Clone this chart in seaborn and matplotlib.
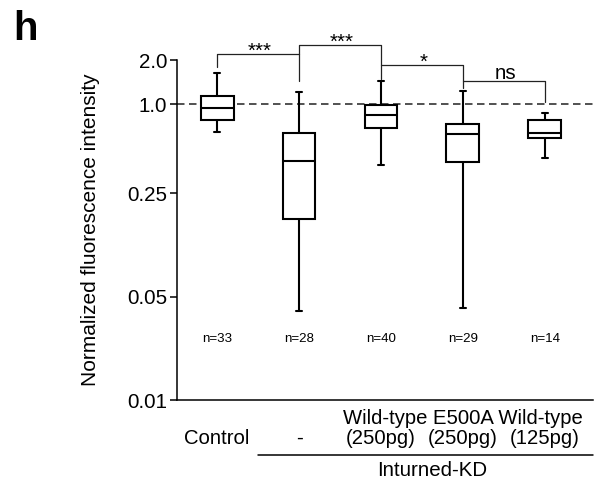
import numpy as np
import pandas as pd
import matplotlib
matplotlib.use("Agg")
import matplotlib.pyplot as plt
import matplotlib.transforms as mtransforms
from matplotlib.ticker import NullLocator
import seaborn as sns

GROUPS = ["Control", "KD", "WT250", "E500A250", "WT125"]
TICK_LABELS = ["Control", "-", "(250pg)", "(250pg)", "(125pg)"]

# five-number summaries (log axis)
WHISKER_LO = [0.647, 0.040, 0.391, 0.0417, 0.434]
Q1 = [0.788, 0.169, 0.692, 0.410, 0.596]
MEDIAN = [0.954, 0.412, 0.843, 0.627, 0.640]
Q3 = [1.138, 0.637, 0.995, 0.733, 0.788]
WHISKER_HI = [1.64, 1.224, 1.44, 1.237, 0.873]
N_COUNTS = [33, 28, 40, 29, 14]

# significance brackets between neighbouring groups
PAIRS = [(0, 1), (1, 2), (2, 3), (3, 4)]
SIG_LABELS = ["***", "***", "*", "ns"]
BRACKET_TOP = [2.20, 2.54, 1.855, 1.446]
LEG_LEFT = [1.79, 2.20, 1.855, 1.446]
LEG_RIGHT = [1.437, 1.476, 1.30, 1.036]

# 5 points per group -> quartiles land exactly on the summary values
rows = []
for g, lo, a, m, b, hi in zip(GROUPS, WHISKER_LO, Q1, MEDIAN, Q3, WHISKER_HI):
    for v in (lo, a, m, b, hi):
        rows.append({"group": g, "value": v})
df = pd.DataFrame(rows)

sns.set_style("ticks")
plt.rcParams["font.family"] = ["Liberation Sans", "DejaVu Sans"]
plt.rcParams["text.color"] = "black"
plt.rcParams["axes.labelcolor"] = "black"
plt.rcParams["xtick.color"] = "black"
plt.rcParams["ytick.color"] = "black"

fig = plt.figure(figsize=(6.09, 4.88), dpi=100)
ax = fig.add_axes([177 / 609, 88 / 488, 416 / 609, 340 / 488])

ax.axhline(1.0, color="#333333", lw=1.2, ls=(0, (4.5, 2.7)), zorder=0.5)

sns.boxplot(
    data=df, x="group", y="value", order=GROUPS,
    whis=np.inf, width=0.4, color="white", linecolor="black",
    linewidth=1.5, log_scale=True, capwidths=0.07, ax=ax,
)

ax.set_ylim(0.01, 2.0)
ax.set_xlim(-0.49, 4.59)
ax.set_yticks([0.01, 0.05, 0.25, 1.0, 2.0])
ax.set_yticklabels(["0.01", "0.05", "0.25", "1.0", "2.0"])
ax.yaxis.set_minor_locator(NullLocator())
ax.set_xticks(range(len(GROUPS)))
ax.set_xticklabels(TICK_LABELS)
ax.tick_params(axis="x", length=0, pad=20.9, labelsize=14.6)
ax.tick_params(axis="y", length=5, width=1.1, labelsize=14.8, pad=2)
for s in ["left", "bottom"]:
    ax.spines[s].set_linewidth(1.1)
    ax.spines[s].set_color("black")
sns.despine(ax=ax)
ax.set_xlabel("")
ax.set_ylabel("Normalized fluorescence intensity", fontsize=15)
ax.yaxis.set_label_coords(-0.185, 0.5)

for (l, r), lab, top, yl, yr in zip(PAIRS, SIG_LABELS, BRACKET_TOP, LEG_LEFT, LEG_RIGHT):
    ax.plot([l, l, r, r], [yl, top, top, yr], color="#222222", lw=0.9, clip_on=False)
    dy = 1.5 if lab == "ns" else -2
    ax.annotate(lab, xy=((l + r) / 2 + 0.02, top), xytext=(0, dy),
                textcoords="offset points", ha="center", va="baseline",
                fontsize=14.8, annotation_clip=False)

for i, n in enumerate(N_COUNTS):
    ax.text(i, 0.026, f"n={n}", ha="center", va="center", fontsize=9.6)

trans = mtransforms.blended_transform_factory(ax.transData, ax.transAxes)
ax.text(3, -0.072, "Wild-type E500A Wild-type", transform=trans,
        ha="center", va="baseline", fontsize=14.6)
ax.plot([0.5, 4.59], [-0.162, -0.162], transform=trans, clip_on=False,
        color="black", lw=1.1)
ax.text(2.63, -0.206, "Inturned-KD", transform=trans, ha="center",
        va="center", fontsize=14.8)

fig.text(13 / 609, 1 - 10 / 488, "h", fontsize=29, fontweight="bold",
         ha="left", va="top")

fig.savefig("out.png", dpi=100)
